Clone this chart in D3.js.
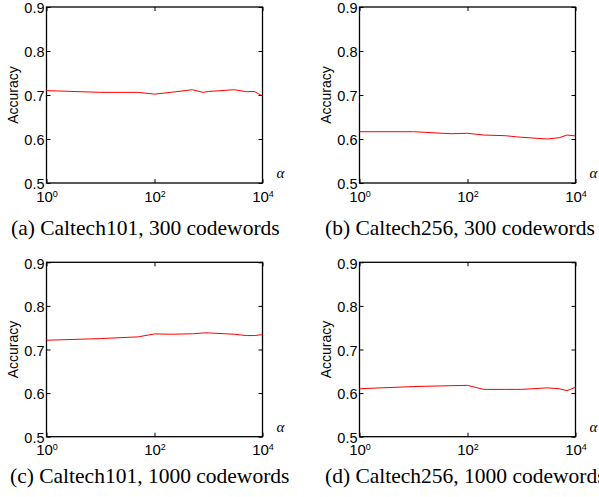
<!DOCTYPE html>
<html>
<head>
<meta charset="utf-8">
<script src="https://cdn.jsdelivr.net/npm/d3@7"></script>
<style>
  body { margin: 0; background: #fff; }
  svg { display: block; }
  .tick text { font-family: "Liberation Sans", Arial, sans-serif; fill: #000; }
</style>
</head>
<body>
<svg id="chart" width="599" height="497"></svg>
<script>
// alpha values (x axis, log scale)
const alpha = [1, 10, 50, 100, 200, 500, 800, 1000, 3000, 5000, 7000, 10000]
// accuracy
const accA = [0.710, 0.706, 0.706, 0.702, 0.706, 0.712, 0.706, 0.708, 0.712, 0.7075, 0.708, 0.698]
const accB = [0.6166, 0.6166, 0.612, 0.613, 0.609, 0.6075, 0.605, 0.604, 0.600, 0.603, 0.609, 0.607]
const accC = [0.7213, 0.725, 0.729, 0.7358, 0.735, 0.736, 0.738, 0.738, 0.735, 0.732, 0.732, 0.734]
const accD = [0.610, 0.615, 0.617, 0.6177, 0.6085, 0.6085, 0.6085, 0.6085, 0.612, 0.610, 0.6055, 0.6135]
const yTicks = [0.5, 0.6, 0.7, 0.8, 0.9]
const xTicks = [1, 100, 10000]
const captions = ["(a) Caltech101, 300 codewords", "(b) Caltech256, 300 codewords",
                  "(c) Caltech101, 1000 codewords", "(d) Caltech256, 1000 codewords"]

const svg = d3.select("#chart")

// panel boxes in pixels
const panels = [
  { left: 46.5, top: 7, width: 216, height: 176, capX: 11, capY: 235, data: accA },
  { left: 359.5, top: 7, width: 216, height: 176, capX: 325, capY: 235, data: accB },
  { left: 46.5, top: 262.3, width: 216, height: 174.4, capX: 10, capY: 483, data: accC },
  { left: 359.5, top: 262.3, width: 216, height: 174.4, capX: 325, capY: 483, data: accD }
]

panels.forEach((p, i) => drawPanel(p, captions[i]))

function drawPanel(p, caption) {
  const g = svg.append("g").attr("transform", `translate(${p.left},${p.top})`)
  const x = d3.scaleLog().domain([1, 10000]).range([0, p.width])
  const y = d3.scaleLinear().domain([0.5, 0.9]).range([p.height, 0])

  // left axis with labels, ticks pointing in
  const axL = g.append("g")
    .call(d3.axisLeft(y).tickValues(yTicks).tickFormat(d3.format(".1f")).tickSizeInner(-4).tickSizeOuter(0).tickPadding(2))
  axL.selectAll(".tick text").style("font-size", "14.5px").attr("dy", "0.4em")
  // right mirror ticks
  g.append("g").attr("transform", `translate(${p.width},0)`)
    .call(d3.axisRight(y).tickValues(yTicks).tickFormat("").tickSizeInner(-4).tickSizeOuter(0))
  // bottom axis, powers of ten
  const axB = g.append("g").attr("transform", `translate(0,${p.height})`)
    .call(d3.axisBottom(x).tickValues(xTicks).tickFormat("").tickSizeInner(-4).tickSizeOuter(0).tickPadding(8))
  axB.selectAll(".tick text").each(function(d) {
    const t = d3.select(this).style("font-size", "15px").attr("dy", "0.71em")
    t.append("tspan").text("10")
    t.append("tspan").text(Math.round(Math.log10(d))).attr("dy", "-0.55em").style("font-size", "9px")
  })
  // top mirror ticks
  g.append("g")
    .call(d3.axisTop(x).tickValues(xTicks).tickFormat("").tickSizeInner(-4).tickSizeOuter(0))
  g.selectAll(".domain").remove()
  g.selectAll(".tick line").attr("stroke", "#000")

  // frame
  g.append("rect")
    .attr("width", p.width)
    .attr("height", p.height)
    .attr("fill", "none")
    .attr("stroke", "#000")
    .attr("stroke-width", 1.3)

  // accuracy curve
  const line = d3.line()
    .x((d, i) => x(alpha[i]))
    .y(d => y(d))
  g.append("path")
    .datum(p.data)
    .attr("d", line)
    .attr("fill", "none")
    .attr("stroke", "#ff0000")
    .attr("stroke-width", 1)

  // y label
  g.append("text")
    .attr("transform", `translate(${-29},${p.height / 2}) rotate(-90)`)
    .attr("text-anchor", "middle")
    .style("font-family", "Liberation Sans, Arial, sans-serif")
    .style("font-size", "14px")
    .text("Accuracy")

  // alpha label
  g.append("text")
    .attr("x", p.width + 14)
    .attr("y", p.height - 5)
    .style("font-family", "Liberation Serif, Times New Roman, serif")
    .style("font-style", "italic")
    .style("font-size", "15px")
    .text("α")

  // caption below
  svg.append("text")
    .attr("x", p.capX)
    .attr("y", p.capY)
    .style("font-family", "Liberation Serif, Times New Roman, serif")
    .style("font-size", "21.5px")
    .text(caption)
}
</script>
</body>
</html>
